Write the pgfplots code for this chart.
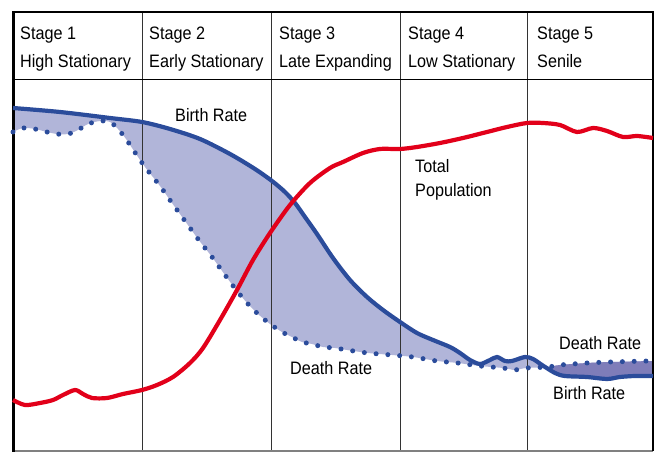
\documentclass[border=0pt]{standalone}
\usepackage{fontspec}
\setmainfont[FakeStretch=0.9]{Liberation Sans}
\usepackage{pgfplots}
\pgfplotsset{compat=1.18}
\usepgfplotslibrary{fillbetween}
\definecolor{brblue}{HTML}{2B4C9B}
\definecolor{popred}{HTML}{E2001A}
\definecolor{lightfill}{HTML}{B1B5D9}
\definecolor{darkfill}{HTML}{7F7DB9}
\definecolor{divgray}{HTML}{333333}
\begin{document}
\begin{tikzpicture}
\begin{axis}[name=ax, scale only axis, width=654bp, height=452bp,
  xmin=0, xmax=654, ymin=0, ymax=452, y dir=reverse, hide axis, clip=false]
% birth rate
\addplot[name path=birth, draw=none, forget plot, smooth] coordinates {
(13,108) (60,112) (110,118) (142,122) (170,129) (200,139) (230,154) (255,169) (272,181) (285,192) (295,203) (305,217) (317,234) (333,258) (350,280) (367,297) (383,310) (400,322) (417,333) (433,340) (450,347) (460,353) (470,360) (480,364) (490,360) (497,357) (505,361) (512,361) (525,357) (533,359) (542,365) (555,373) (565,376) (587,377) (607,379) (620,377) (635,376) (653,376)};
% death rate
\addplot[name path=death, draw=none, forget plot, smooth] coordinates {
(13,132) (23,128) (35,129) (47,132) (57,134) (68,134) (78,130) (88,124) (100,121) (110,122) (118,129) (126,139) (134,151) (145,167) (160,186) (172,203) (185,221) (198,239) (212,257) (225,275) (237,291) (248,304) (258,314) (270,324) (282,332) (292,337) (302,342) (312,344) (323,347) (335,348) (347,350) (368,353) (392,355) (413,357) (437,361) (458,363) (480,366) (503,368) (515,370) (526,368) (548,367) (560,365) (587,363) (610,362) (653,361)};
\addplot[lightfill, draw=none] fill between[of=birth and death];
\addplot[darkfill, draw=none] fill between[of=birth and death, soft clip={domain=538:653}];
% frame and dividers
\draw[divgray, line width=1bp] (142,12) -- (142,451);
\draw[divgray, line width=1bp] (271,12) -- (271,451);
\draw[divgray, line width=1bp] (400,12) -- (400,451);
\draw[divgray, line width=1bp] (527,12) -- (527,451);
\draw[black, line width=1bp] (13,80) -- (653,80);
\draw[gray, line width=1.5bp] (13,451) -- (653,451);
\draw[black, line width=1.5bp] (653,12) -- (653,451);
\draw[black, line width=2bp] (13,12.5) -- (653.7,12.5);
\draw[black, line width=3bp] (13,11.5) -- (13,452);
% curves
\addplot[brblue, line width=5bp, line cap=round, dash pattern=on 0pt off 11.8bp, smooth] coordinates {
(13,132) (23,128) (35,129) (47,132) (57,134) (68,134) (78,130) (88,124) (100,121) (110,122) (118,129) (126,139) (134,151) (145,167) (160,186) (172,203) (185,221) (198,239) (212,257) (225,275) (237,291) (248,304) (258,314) (270,324) (282,332) (292,337) (302,342) (312,344) (323,347) (335,348) (347,350) (368,353) (392,355) (413,357) (437,361) (458,363) (480,366) (503,368) (515,370) (526,368) (548,367) (560,365) (587,363) (610,362) (648,361)};
\addplot[brblue, line width=4.2bp, smooth] coordinates {
(13,108) (60,112) (110,118) (142,122) (170,129) (200,139) (230,154) (255,169) (272,181) (285,192) (295,203) (305,217) (317,234) (333,258) (350,280) (367,297) (383,310) (400,322) (417,333) (433,340) (450,347) (460,353) (470,360) (480,364) (490,360) (497,357) (505,361) (512,361) (525,357) (533,359) (542,365) (555,373) (565,376) (587,377) (607,379) (620,377) (635,376) (653,376)};
\addplot[popred, line width=4.2bp, smooth] coordinates {
(13,400) (25,405) (40,403) (53,400) (63,395) (75,390) (83,394) (92,398) (107,398) (123,394) (142,390) (157,385) (173,377) (190,363) (203,348) (220,320) (237,290) (253,260) (270,233) (290,205) (310,183) (330,168) (343,162) (363,153) (380,149) (400,149) (417,147) (440,143) (463,138) (487,132) (507,127) (527,123) (543,123) (560,125) (577,132) (593,128) (607,131) (623,137) (637,136) (653,138)};
% labels
\tikzset{lab/.style={anchor=base west, inner sep=0pt, font=\fontsize{18bp}{21bp}\selectfont}}
\node[lab] at (20,40) {Stage 1};
\node[lab] at (20,68) {High Stationary};
\node[lab] at (149,40) {Stage 2};
\node[lab] at (149,68) {Early Stationary};
\node[lab] at (279,40) {Stage 3};
\node[lab] at (279,68) {Late Expanding};
\node[lab] at (408,40) {Stage 4};
\node[lab] at (408,68) {Low Stationary};
\node[lab] at (537,40) {Stage 5};
\node[lab] at (537,68) {Senile};
\node[lab] at (175,122) {Birth Rate};
\node[lab] at (415,173) {Total};
\node[lab] at (415,197) {Population};
\node[lab] at (290,375) {Death Rate};
\node[lab] at (559,350) {Death Rate};
\node[lab] at (553,400) {Birth Rate};
\end{axis}
\pgfresetboundingbox
\path[use as bounding box] (ax.south west) rectangle (ax.north east);
\end{tikzpicture}
\end{document}
